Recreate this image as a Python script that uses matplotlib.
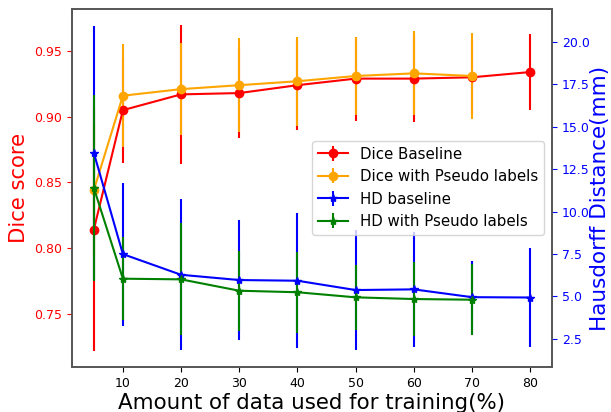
import matplotlib
matplotlib.use("Agg")
import matplotlib.pyplot as plt

x_all = [5, 10, 20, 30, 40, 50, 60, 70, 80]
x_pseudo = [5, 10, 20, 30, 40, 50, 60, 70]

dice_base = [0.814, 0.905, 0.917, 0.918, 0.924, 0.929, 0.929, 0.930, 0.934]
dice_base_err = [0.092, 0.040, 0.053, 0.034, 0.034, 0.032, 0.033, 0.028, 0.029]
dice_pseudo = [0.844, 0.916, 0.921, 0.924, 0.927, 0.931, 0.933, 0.931]
dice_pseudo_err = [0.050, 0.039, 0.035, 0.036, 0.034, 0.030, 0.032, 0.033]

hd_base = [13.47, 7.49, 6.27, 5.96, 5.92, 5.37, 5.41, 4.95, 4.93]
hd_base_err = [7.5, 4.22, 4.45, 3.56, 3.98, 3.53, 3.38, 2.15, 2.9]
hd_pseudo = [11.4, 6.04, 6.0, 5.33, 5.24, 4.94, 4.84, 4.80]
hd_pseudo_err = [5.5, 2.45, 3.3, 2.37, 2.4, 1.92, 2.2, 2.1]

fig = plt.figure(figsize=(6.11, 4.12), dpi=100)
ax = fig.add_axes([0.1178, 0.1092, 0.7856, 0.869])
ax2 = ax.twinx()

spine_c = '#555555'
for a in (ax, ax2):
    for s in a.spines.values():
        s.set_color(spine_c)
        s.set_linewidth(1.2)

h1 = ax.errorbar(x_all, dice_base, yerr=dice_base_err, color='red', marker='o',
                 markersize=6, lw=1.5, label='Dice Baseline')
h2 = ax.errorbar(x_pseudo, dice_pseudo, yerr=dice_pseudo_err, color='orange', marker='o',
                 markersize=6, lw=1.5, label='Dice with Pseudo labels')
h3 = ax2.errorbar(x_all, hd_base, yerr=hd_base_err, color='blue', marker='*',
                  markersize=6, lw=1.5, label='HD baseline')
h4 = ax2.errorbar(x_pseudo, hd_pseudo, yerr=hd_pseudo_err, color='green', marker='*',
                  markersize=6, lw=1.5, label='HD with Pseudo labels')

ax.set_ylim(0.7095, 0.982)
ax2.set_ylim(0.83, 21.95)
ax.set_xticks([10, 20, 30, 40, 50, 60, 70, 80])

ax.tick_params(axis='y', colors='red', labelsize=9)
ax.tick_params(axis='x', labelsize=9)
ax2.tick_params(axis='y', colors='blue', labelsize=9)

ax.set_xlabel('Amount of data used for training(%)', fontsize=15.4, labelpad=2)
ax.set_ylabel('Dice score', color='red', fontsize=15.2)
ax2.set_ylabel('Hausdorff Distance(mm)', color='blue', fontsize=15.5, labelpad=0.5)
ax2.yaxis.label.set_y(0.47)

ax2.legend([h1, h2, h3, h4],
           ['Dice Baseline', 'Dice with Pseudo labels', 'HD baseline', 'HD with Pseudo labels'],
           loc='center right', fontsize=10.8)

fig.savefig('out.png', dpi=100)
